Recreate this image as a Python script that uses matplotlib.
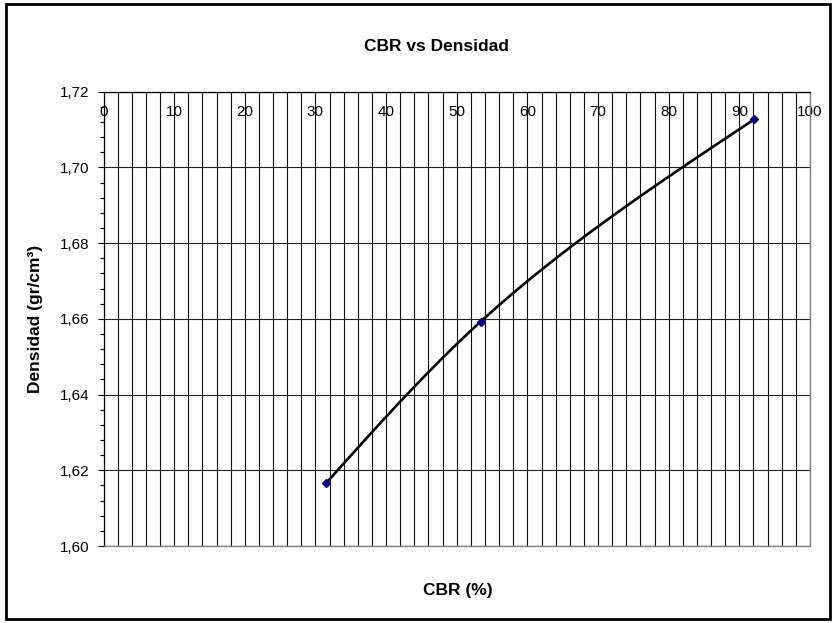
import numpy as np
import matplotlib
matplotlib.use("Agg")
import matplotlib.pyplot as plt
from matplotlib.patches import Rectangle
from matplotlib.ticker import MultipleLocator, FixedLocator

plt.rcParams['font.family'] = ['Liberation Sans', 'DejaVu Sans']

# data
cbr = [31.5, 53.4, 92.1]
densidad = [1.6166, 1.6593, 1.7127]
x_ticks = list(range(0, 101, 10))
y_ticks = [1.60, 1.62, 1.64, 1.66, 1.68, 1.70, 1.72]
y_labels = ['1,60', '1,62', '1,64', '1,66', '1,68', '1,70', '1,72']

W, H = 835, 623
fig = plt.figure(figsize=(W / 100, H / 100), dpi=100)
ax = fig.add_axes([103.5 / W, 1 - 546 / H, (810 - 103.5) / W, (546 - 91.7) / H])

xmin, xmax, ymin, ymax = 0, 100, 1.60, 1.72
ax.set_xlim(xmin, xmax)
ax.set_ylim(ymin, ymax)


def natural_spline(t, v, tt):
    # natural cubic spline, small dense solve is fine for a handful of points
    n = len(t)
    h = np.diff(t)
    A = np.zeros((n, n))
    b = np.zeros(n)
    A[0, 0] = A[-1, -1] = 1
    for i in range(1, n - 1):
        A[i, i - 1] = h[i - 1]
        A[i, i] = 2 * (h[i - 1] + h[i])
        A[i, i + 1] = h[i]
        b[i] = 6 * ((v[i + 1] - v[i]) / h[i] - (v[i] - v[i - 1]) / h[i - 1])
    m = np.linalg.solve(A, b)
    out = np.empty_like(tt)
    for k, x in enumerate(tt):
        i = min(np.searchsorted(t, x, side='right') - 1, n - 2)
        a, c = t[i + 1] - x, x - t[i]
        out[k] = (m[i] * a ** 3 + m[i + 1] * c ** 3) / (6 * h[i]) \
            + (v[i] / h[i] - m[i] * h[i] / 6) * a + (v[i + 1] / h[i] - m[i + 1] * h[i] / 6) * c
    return out


def smooth(xs, ys, n=200):
    # parametric spline in pixel-like units so the bend looks like the screen one
    sx = (xmax - xmin) / 706.0
    sy = (ymax - ymin) / 454.0
    px = (np.array(xs) - xmin) / sx
    py = (np.array(ys) - ymin) / sy
    t = np.concatenate([[0], np.cumsum(np.hypot(np.diff(px), np.diff(py)))])
    tt = np.linspace(0, t[-1], n)
    return natural_spline(t, px, tt) * sx + xmin, natural_spline(t, py, tt) * sy + ymin


lx, ly = smooth(cbr, densidad)
ax.plot(lx, ly, color='black', lw=1.9, zorder=3, solid_capstyle='round')
ax.plot(cbr, densidad, linestyle='none', marker='D', ms=4.5, color='#000080', zorder=4)

# grid
ax.xaxis.set_major_locator(FixedLocator(x_ticks))
ax.xaxis.set_minor_locator(MultipleLocator(2))
ax.grid(True, which='major', axis='x', color='#111111', lw=0.8)
ax.grid(True, which='minor', axis='x', color='#111111', lw=0.8)
ax.yaxis.set_major_locator(FixedLocator(y_ticks))
ax.yaxis.set_minor_locator(MultipleLocator(0.004))
ax.grid(True, which='major', axis='y', color='#222222', lw=0.8)
ax.set_axisbelow(True)

ax.set_yticklabels(y_labels)
ax.tick_params(axis='y', which='major', direction='out', length=4.3, width=0.8,
               labelsize=11, pad=5.8)
ax.tick_params(axis='y', which='minor', direction='out', length=2.9, width=0.8)

ax.xaxis.tick_top()
ax.tick_params(axis='x', which='both', length=0, top=True, bottom=False,
               labeltop=True, labelbottom=False, labelsize=11, pad=-20)

for s in ['top', 'left']:
    ax.spines[s].set_color('black')
    ax.spines[s].set_linewidth(0.9)
for s in ['bottom', 'right']:
    ax.spines[s].set_color('#808080')
    ax.spines[s].set_linewidth(1.0)

fig.text(436 / W, 1 - 46.7 / H, 'CBR vs Densidad', ha='center', va='center',
         fontsize=12.5, fontweight='bold')
fig.text(457.5 / W, 1 - 590.7 / H, 'CBR (%)', ha='center', va='center',
         fontsize=12.5, fontweight='bold')
fig.text(36 / W, 1 - 319 / H, 'Densidad (gr/cm³)', ha='center', va='center',
         rotation=90, fontsize=12.5, fontweight='bold')

# chart area border
fig.patches.append(Rectangle((5.5 / W, 4 / H), (830 - 5.5) / W, (619 - 4) / H,
                             transform=fig.transFigure, fill=False,
                             edgecolor='black', lw=2.0))

fig.savefig('out.png', dpi=100)
